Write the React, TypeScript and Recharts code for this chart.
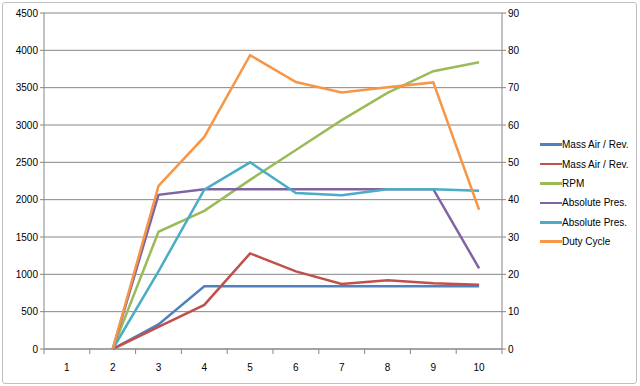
import { ComposedChart, Line, XAxis, YAxis, CartesianGrid } from 'recharts';

const categories = ['1', '2', '3', '4', '5', '6', '7', '8', '9', '10'];

// left axis (0–4500)
const massAirA = [null, 0, 330, 840, 840, 840, 840, 840, 840, 840];
const massAirB = [null, 0, 295, 590, 1280, 1040, 870, 920, 880, 860];
const rpm = [null, 0, 1570, 1850, 2265, 2665, 3065, 3430, 3720, 3840];
const absPresA = [null, 0, 2065, 2140, 2140, 2140, 2140, 2140, 2140, 1080];
const absPresB = [null, 0, 1040, 2135, 2500, 2090, 2060, 2140, 2140, 2120];
// right axis (0–90)
const dutyCycle = [null, 0, 43.7, 56.8, 78.7, 71.5, 68.7, 70.1, 71.4, 37.3];

const leftTicks = [0, 500, 1000, 1500, 2000, 2500, 3000, 3500, 4000, 4500];
const rightTicks = [0, 10, 20, 30, 40, 50, 60, 70, 80, 90];

const series = [
  { key: 'massAirA', name: 'Mass Air / Rev.', color: '#4F81BD', axis: 'left' },
  { key: 'massAirB', name: 'Mass Air / Rev.', color: '#C0504D', axis: 'left' },
  { key: 'rpm', name: 'RPM', color: '#9BBB59', axis: 'left' },
  { key: 'absPresA', name: 'Absolute Pres.', color: '#8064A2', axis: 'left' },
  { key: 'absPresB', name: 'Absolute Pres.', color: '#4BACC6', axis: 'left' },
  { key: 'dutyCycle', name: 'Duty Cycle', color: '#F79646', axis: 'right' },
];

const data = categories.map((c, i) => ({
  x: c,
  massAirA: massAirA[i],
  massAirB: massAirB[i],
  rpm: rpm[i],
  absPresA: absPresA[i],
  absPresB: absPresB[i],
  dutyCycle: dutyCycle[i],
}));

const FONT = '"Liberation Sans", Arial, sans-serif';
const AXIS = '#868686';

// label in the band centre, tick marks on the band edges (Excel style)
function CategoryTick(props: any) {
  const { x, y, payload, index } = props;
  const half = 22.9;
  return (
    <g>
      <line x1={x - half} x2={x - half} y1={y - 8} y2={y - 3} stroke={AXIS} />
      {index === categories.length - 1 && (
        <line x1={x + half} x2={x + half} y1={y - 8} y2={y - 3} stroke={AXIS} />
      )}
      <text x={x} y={y + 14} textAnchor="middle" fontSize={10} fill="#000" fontFamily={FONT}>
        {payload.value}
      </text>
    </g>
  );
}

export default function App() {
  return (
    <div style={{ position: 'absolute', left: 0, top: 0, width: 640, height: 386, background: '#fff' }}>
      <div
        style={{
          position: 'absolute',
          left: 2,
          top: 2,
          width: 633,
          height: 380,
          border: '1px solid #BFBFBF',
          borderRadius: 3,
        }}
      />
      <ComposedChart
        width={640}
        height={386}
        data={data}
        margin={{ top: 13, right: 98, bottom: 7, left: 0 }}
        style={{ position: 'absolute', left: 0, top: 0 }}
      >
        <CartesianGrid vertical={false} stroke={AXIS} yAxisId="left" />
        <XAxis
          dataKey="x"
          scale="band"
          height={30}
          stroke={AXIS}
          tickLine={false}
          tick={<CategoryTick />}
          interval={0}
        />
        <YAxis
          yAxisId="left"
          orientation="left"
          width={44}
          domain={[0, 4500]}
          ticks={leftTicks}
          stroke={AXIS}
          tickSize={4}
          tick={{ fontSize: 10, fill: '#000', fontFamily: FONT }}
          interval={0}
        />
        <YAxis
          yAxisId="right"
          orientation="right"
          width={40}
          domain={[0, 90]}
          ticks={rightTicks}
          stroke={AXIS}
          tickSize={4}
          tick={{ fontSize: 10, fill: '#000', fontFamily: FONT }}
          interval={0}
        />
        {series.map((s) => (
          <Line
            key={s.key}
            yAxisId={s.axis}
            dataKey={s.key}
            name={s.name}
            stroke={s.color}
            strokeWidth={2.5}
            dot={false}
            activeDot={false}
            type="linear"
            isAnimationActive={false}
          />
        ))}
      </ComposedChart>
      <div style={{ position: 'absolute', left: 540, top: 135, fontFamily: FONT, fontSize: 10 }}>
        {series.map((s) => (
          <div key={s.key} style={{ display: 'flex', alignItems: 'center', height: 19.4 }}>
            <span style={{ display: 'inline-block', width: 22, height: 2.5, background: s.color }} />
            <span>{s.name}</span>
          </div>
        ))}
      </div>
    </div>
  );
}
